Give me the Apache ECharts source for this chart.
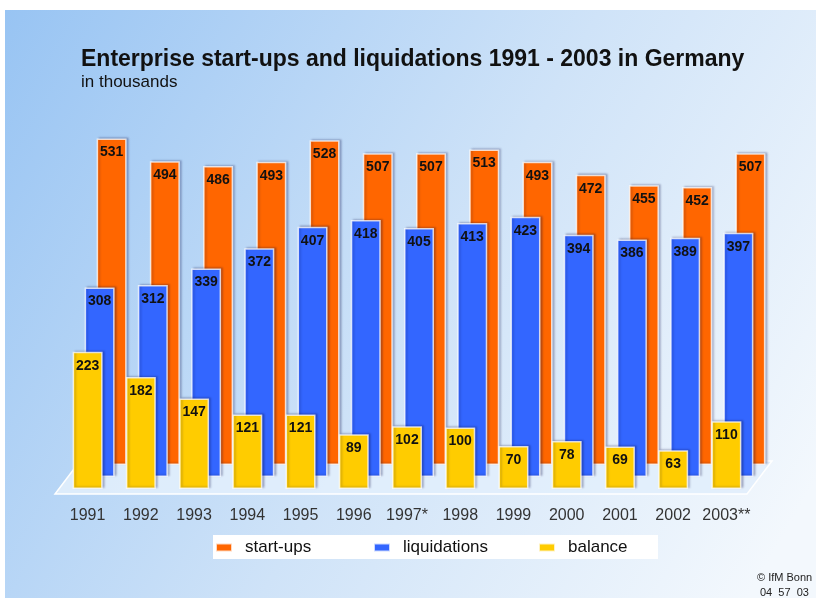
<!DOCTYPE html>
<html>
<head>
<meta charset="utf-8">
<script src="https://cdn.jsdelivr.net/npm/echarts@6/dist/echarts.min.js"></script>
<style>html,body{margin:0;padding:0;background:#fff;}#c{width:816px;height:598px;}</style>
</head>
<body>
<div id="c"></div>
<script>
const years = ['1991','1992','1993','1994','1995','1996','1997*','1998','1999','2000','2001','2002','2003**'];
const startups = [531,494,486,493,528,507,507,513,493,472,455,452,507];
const liquidations = [308,312,339,372,407,418,405,413,423,394,386,389,397];
const balance = [223,182,147,121,121,89,102,100,70,78,69,63,110];
const seriesNames = ['start-ups','liquidations','balance'];
const colors = ['#ff6600','#3366ff','#ffcc00'];

const chart = echarts.init(document.getElementById('c'));
const FONT = 'Liberation Sans, Arial, sans-serif';

// three staggered grids for the pseudo-3D depth (back: start-ups, middle: liquidations, front: balance)
const grids = [
  {left: 85, top: 96, width: 692, height: 369},
  {left: 73, top: 108, width: 692, height: 369},
  {left: 61, top: 120, width: 692, height: 369}
];
const dataSets = [startups, liquidations, balance];

const xAxes = grids.map((g, i) => ({
  type: 'category', gridIndex: i, data: years,
  axisLine: {show: false}, axisTick: {show: false},
  axisLabel: i === 2 ? {show: true, interval: 0, color: '#333', fontSize: 16, fontFamily: FONT, margin: 19} : {show: false}
}));
const yAxes = grids.map((g, i) => ({
  type: 'value', gridIndex: i, min: 0, max: 600, show: false, splitLine: {show: false}
}));

const series = dataSets.map((d, i) => ({
  name: seriesNames[i], type: 'bar', xAxisIndex: i, yAxisIndex: i,
  data: d, barWidth: 30, z: 3 + i,
  itemStyle: {
    color: colors[i],
    borderColor: 'rgba(255,255,255,0.75)', borderWidth: 1.5,
    shadowColor: 'rgba(0,0,60,0.25)', shadowBlur: 2, shadowOffsetX: 2, shadowOffsetY: -1
  },
  label: {
    show: true, position: 'insideTop', distance: 7,
    color: '#111', fontSize: 14, fontWeight: 'bold', fontFamily: FONT
  }
}));

const legendLefts = [213, 371, 536];
const legends = seriesNames.map((n, i) => ({
  data: [n], left: legendLefts[i], top: 537, orient: 'horizontal',
  icon: 'rect', itemWidth: 16, itemHeight: 8, padding: [2, 2, 2, 2],
  textStyle: {fontSize: 17, color: '#111', fontFamily: FONT, padding: [0, 0, 0, 8]}
}));

chart.setOption({
  animation: false,
  graphic: [
    {type: 'rect', z: -10, shape: {x: 5, y: 10, width: 811, height: 588},
     style: {fill: new echarts.graphic.LinearGradient(0, 0, 1, 0.8, [
       {offset: 0, color: '#98c4f3'}, {offset: 0.55, color: '#cfe3f8'}, {offset: 1, color: '#f3f8fd'}])}},
    {type: 'polygon', z: -5, shape: {points: [[55,494],[747,494],[772,461],[80,461]]},
     style: {fill: 'rgba(225,238,252,0.9)', stroke: '#ffffff', lineWidth: 1.5}},
    {type: 'rect', z: -4, shape: {x: 213, y: 535, width: 445, height: 24}, style: {fill: '#ffffff'}},
    {type: 'text', left: 757, top: 572, style: {text: '© IfM Bonn', fontSize: 11, fontFamily: FONT, fill: '#222'}},
    {type: 'text', left: 760, top: 587, style: {text: '04  57  03', fontSize: 11, fontFamily: FONT, fill: '#222'}}
  ],
  title: {
    text: 'Enterprise start-ups and liquidations 1991 - 2003 in Germany',
    subtext: 'in thousands',
    left: 76, top: 43, itemGap: 3,
    textStyle: {fontSize: 23, fontWeight: 'bold', color: '#111', fontFamily: FONT},
    subtextStyle: {fontSize: 17, color: '#111', fontFamily: FONT}
  },
  legend: legends,
  grid: grids,
  xAxis: xAxes,
  yAxis: yAxes,
  series: series
});
</script>
</body>
</html>
